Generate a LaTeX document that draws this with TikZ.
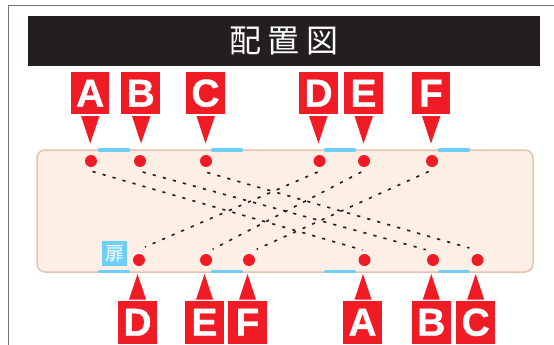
\documentclass[tikz,border=0pt]{standalone}
\usepackage{fontspec}
\setmainfont{Liberation Sans}[BoldFeatures={FakeBold=0.8}]
\newfontfamily\cjk{Noto Sans CJK JP}
\definecolor{barblack}{HTML}{231F20}
\definecolor{markred}{HTML}{EF1C25}
\definecolor{doorblue}{HTML}{6DCFF6}
\definecolor{roomfill}{HTML}{FDEFE6}
\definecolor{roomline}{HTML}{E6C3AF}
\tikzset{
	labelbox/.style={fill=markred,text=white,inner sep=0pt,minimum width=38.5pt,minimum height=42.5pt,font=\fontsize{39}{39}\selectfont\bfseries},
	seatdot/.style={circle,fill=markred,inner sep=0pt,minimum size=12pt},
	doorseg/.style={doorblue,line width=3.5pt,line cap=round},
	pairline/.style={barblack,line width=1.6pt,dash pattern=on 3.2pt off 7.2pt}
}
\begin{document}
\begin{tikzpicture}[x=1pt,y=-1pt,line join=round]
	\useasboundingbox (0,0) rectangle (554,345);
	% Khung ngoài và tiêu đề
	\draw[black!55,line width=1.5pt] (554,5.5)--(8.5,5.5)--(8.5,345);
	\node[fill=barblack,minimum width=512pt,minimum height=50pt,inner sep=0pt] (titlebar) at (284,41) {};
	\node[text=white,font=\cjk\fontsize{32}{32}\selectfont] (title) at (284,41) {配\hspace{6.7pt}置\hspace{6.7pt}図};
	% Phòng và các đoạn cửa
	\draw[roomline,fill=roomfill,line width=1.5pt,rounded corners=8pt] (37,150) rectangle (533,272);
	\draw[doorseg] (99.5,150)--(128.5,150);
	\draw[doorseg] (212.5,150)--(241.5,150);
	\draw[doorseg] (325.5,150)--(354.5,150);
	\draw[doorseg] (439.5,150)--(468.5,150);
	\draw[doorseg] (99.5,271.5)--(128.5,271.5);
	\draw[doorseg] (212.5,271.5)--(241.5,271.5);
	\draw[doorseg] (325.5,271.5)--(354.5,271.5);
	\draw[doorseg] (439.5,271.5)--(468.5,271.5);
	\node[fill=doorblue,text=white,minimum size=25pt,inner sep=0pt,font=\cjk\fontsize{19}{19}\selectfont] (door) at (114.5,253.5) {扉};
	% Các điểm phía trên
	\node[seatdot] (topA) at (91,161) {};
	\node[seatdot] (topB) at (140,161) {};
	\node[seatdot] (topC) at (206,161) {};
	\node[seatdot] (topD) at (319.5,161) {};
	\node[seatdot] (topE) at (364,161) {};
	\node[seatdot] (topF) at (432,161) {};
	% Các điểm phía dưới
	\node[seatdot] (botD) at (139,260) {};
	\node[seatdot] (botE) at (206,260) {};
	\node[seatdot] (botF) at (249,260) {};
	\node[seatdot] (botA) at (364.5,260) {};
	\node[seatdot] (botB) at (433,260) {};
	\node[seatdot] (botC) at (477.5,260) {};
	% Đường nét đứt
	\draw[pairline] ([shift={(1.5,10.5)}]topA.center)--([shift={(-2,-10)}]botA.center);
	\draw[pairline] ([shift={(2.7,11)}]topB.center)--([shift={(-7,-10.3)}]botB.center);
	\draw[pairline] ([shift={(1.3,11.5)}]topC.center)--([shift={(-8.2,-12)}]botC.center);
	\draw[pairline] ([shift={(-1.8,11)}]topD.center)--([shift={(6,-13)}]botD.center);
	\draw[pairline] ([shift={(-2.7,11)}]topE.center)--([shift={(6.7,-10.7)}]botE.center);
	\draw[pairline] ([shift={(-3.3,10.5)}]topF.center)--([shift={(7.7,-10.7)}]botF.center);
	% Nhãn phía trên
	\node[labelbox] (lblA) at (90.2,93.2) {A};
	\node[labelbox] (lblB) at (140.7,93.2) {B};
	\node[labelbox] (lblC) at (205.5,93.2) {C};
	\node[labelbox] (lblD) at (318.5,93.2) {D};
	\node[labelbox] (lblE) at (363.5,93.2) {E};
	\node[labelbox] (lblF) at (431,93.2) {F};
	\fill[markred] (81,116)--(99.5,116)--(90.2,143.5)--cycle;
	\fill[markred] (132,116)--(150.5,116)--(141,143.5)--cycle;
	\fill[markred] (196.5,116)--(215,116)--(205.5,143.5)--cycle;
	\fill[markred] (309,116)--(327.5,116)--(318.5,143.5)--cycle;
	\fill[markred] (354.5,116)--(373,116)--(363.5,143.5)--cycle;
	\fill[markred] (422,116)--(440.5,116)--(431,143.5)--cycle;
	% Nhãn phía dưới
	\node[labelbox] (lblDb) at (137.5,322.3) {D};
	\node[labelbox] (lblEb) at (204.5,322.3) {E};
	\node[labelbox] (lblFb) at (247.5,322.3) {F};
	\node[labelbox] (lblAb) at (362.5,322.3) {A};
	\node[labelbox] (lblBb) at (431.3,322.3) {B};
	\node[labelbox] (lblCb) at (475.7,322.3) {C};
	\fill[markred] (129,299.5)--(146,299.5)--(137.5,274)--cycle;
	\fill[markred] (196,299.5)--(213,299.5)--(204.5,274)--cycle;
	\fill[markred] (239,299.5)--(256,299.5)--(247.5,274)--cycle;
	\fill[markred] (354.5,299.5)--(371.5,299.5)--(363,274)--cycle;
	\fill[markred] (422.8,299.5)--(439.8,299.5)--(431.3,274)--cycle;
	\fill[markred] (467.2,299.5)--(484.2,299.5)--(475.7,274)--cycle;
\end{tikzpicture}
\end{document}
